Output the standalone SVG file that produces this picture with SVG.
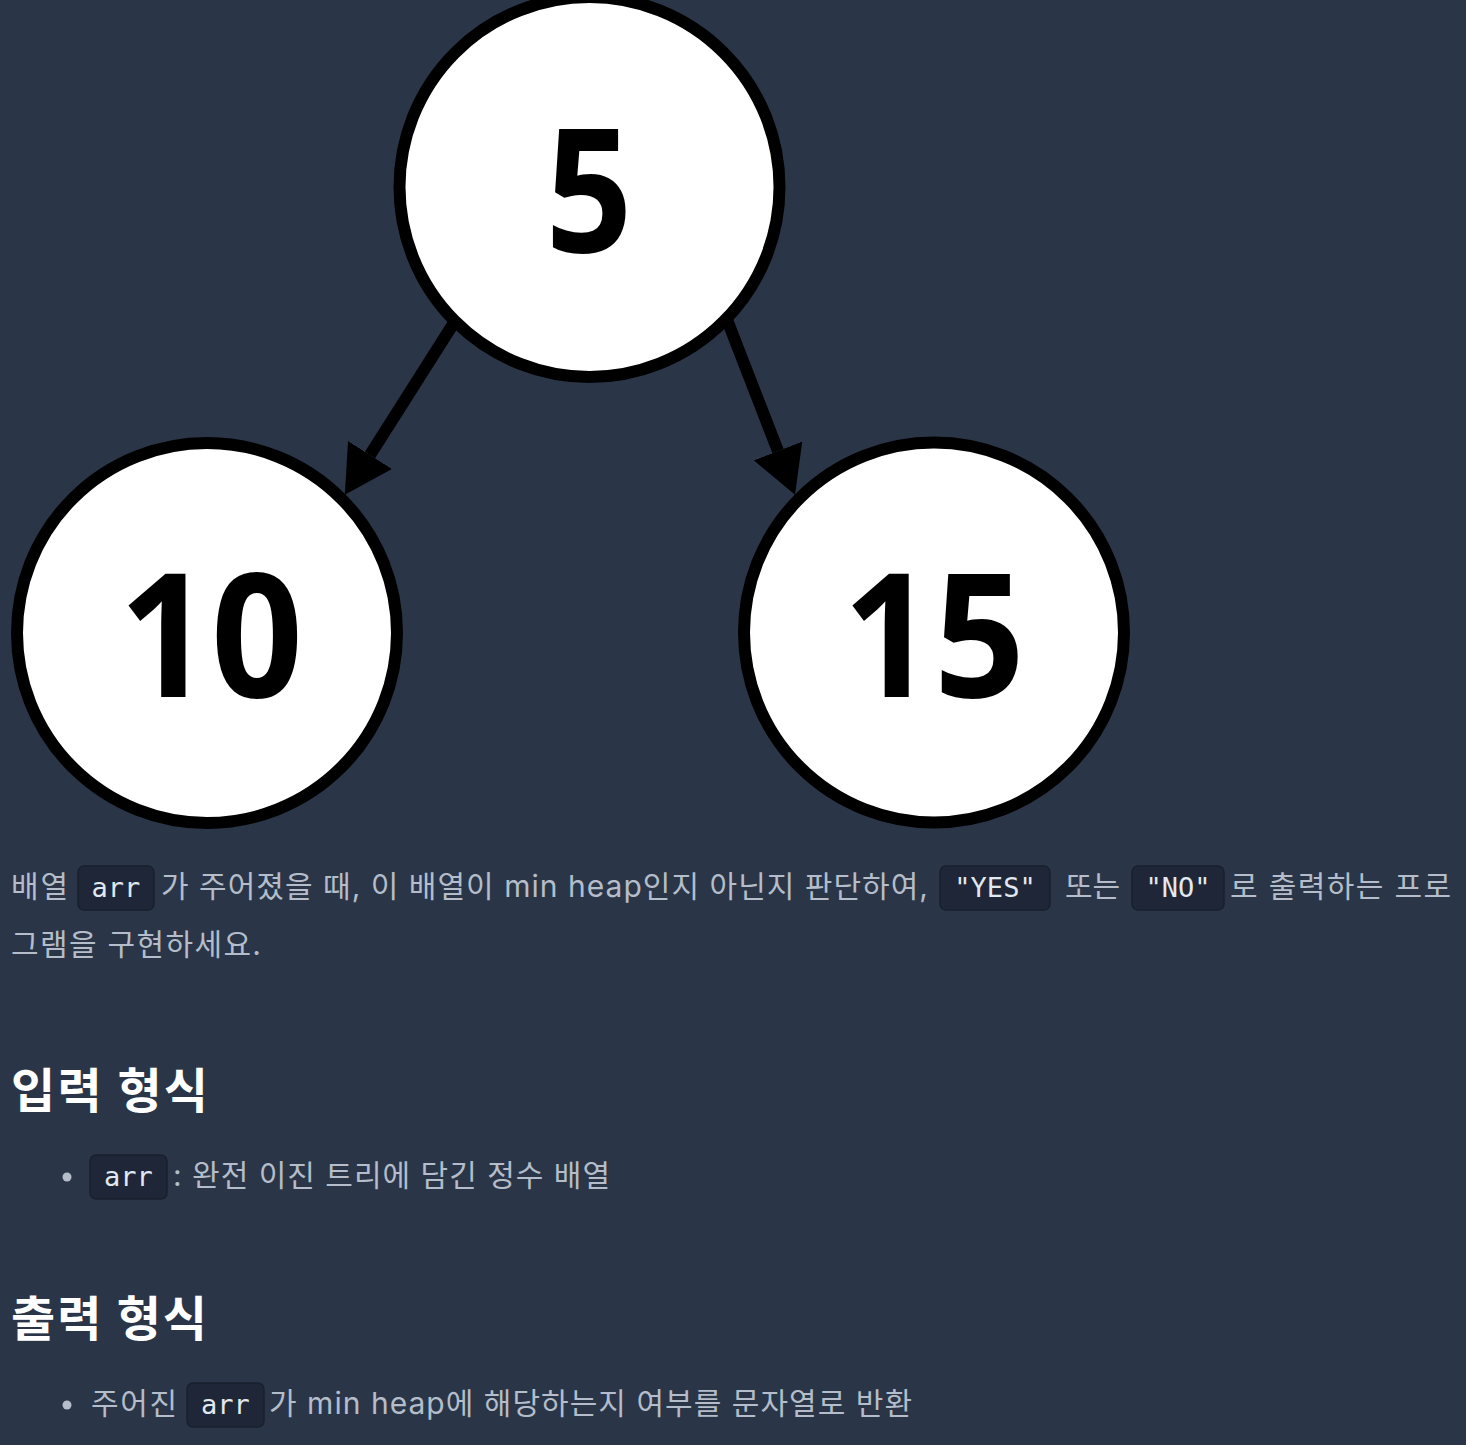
<svg xmlns="http://www.w3.org/2000/svg" width="1466" height="1445" viewBox="0 0 1466 1445">
<style>
.node circle{fill:#ffffff;stroke:#000000;stroke-width:12}
.num{font-family:"Open Sans","DejaVu Sans",sans-serif;font-weight:700;font-size:172px;fill:#000;text-anchor:middle}
.edge{stroke:#000;stroke-width:12;fill:none}
.body{font-family:Inter,"Noto Sans CJK KR",sans-serif;font-size:30px;fill:#b4bdc9}
.h{font-family:Inter,"Noto Sans CJK KR",sans-serif;font-size:48px;font-weight:700;fill:#ffffff}
.code{fill:#1e2637;stroke:#18202d;stroke-width:1.5}
.mono{font-family:"DejaVu Sans Mono","Liberation Mono",monospace;font-size:27px;fill:#e2e8f0;text-anchor:middle}
.dot{fill:#b4bdc9}
</style>
<defs>
<marker id="ah" markerUnits="userSpaceOnUse" markerWidth="47" markerHeight="52" viewBox="0 0 47 52" refX="0" refY="26" orient="auto">
<path d="M0,0 L47,26 L0,52 Z" fill="#000"/>
</marker>
</defs>
<rect x="0" y="0" width="1466" height="1445" fill="#2a3648"/>
<g id="connectors">
<line class="edge" x1="466.5" y1="303" x2="370" y2="455" marker-end="url(#ah)"/>
<line class="edge" x1="705.6" y1="264.6" x2="778" y2="451" marker-end="url(#ah)"/>
</g>
<g id="node-5" class="node">
<circle cx="589.5" cy="187" r="190"/>
<text class="num" x="589" y="252" textLength="87" lengthAdjust="spacingAndGlyphs">5</text>
</g>
<g id="node-10" class="node">
<circle cx="207" cy="633" r="190"/>
<text class="num" x="211" y="697" textLength="184" lengthAdjust="spacingAndGlyphs">10</text>
</g>
<g id="node-15" class="node">
<circle cx="934" cy="632.5" r="190"/>
<text class="num" x="934" y="697" textLength="182" lengthAdjust="spacingAndGlyphs">15</text>
</g>
<g id="description">
<text class="body" x="11" y="897" textLength="57">배열</text>
<rect class="code" x="78" y="866" width="76" height="44" rx="6"/>
<text class="mono" x="116" y="897">arr</text>
<text class="body" x="161" y="897" textLength="767">가 주어졌을 때, 이 배열이 min heap인지 아닌지 판단하여,</text>
<rect class="code" x="940" y="866" width="110" height="44" rx="6"/>
<text class="mono" x="995" y="897">"YES"</text>
<text class="body" x="1065" y="897" textLength="55">또는</text>
<rect class="code" x="1132" y="866" width="92" height="44" rx="6"/>
<text class="mono" x="1178" y="897">"NO"</text>
<text class="body" x="1230" y="897" textLength="221">로 출력하는 프로</text>
<text class="body" x="11" y="955" textLength="250">그램을 구현하세요.</text>
</g>
<g id="input-section">
<text class="h" x="11" y="1108" textLength="197">입력 형식</text>
<circle class="dot" cx="67" cy="1177" r="4.5"/>
<rect class="code" x="90" y="1155" width="77" height="44" rx="6"/>
<text class="mono" x="128.5" y="1186">arr</text>
<text class="body" x="173" y="1186" textLength="437">: 완전 이진 트리에 담긴 정수 배열</text>
</g>
<g id="output-section">
<text class="h" x="11" y="1336" textLength="196">출력 형식</text>
<circle class="dot" cx="67" cy="1405" r="4.5"/>
<text class="body" x="91" y="1414" textLength="86">주어진</text>
<rect class="code" x="187" y="1383" width="77" height="44" rx="6"/>
<text class="mono" x="225.5" y="1414">arr</text>
<text class="body" x="269" y="1414" textLength="643">가 min heap에 해당하는지 여부를 문자열로 반환</text>
</g>
</svg>
